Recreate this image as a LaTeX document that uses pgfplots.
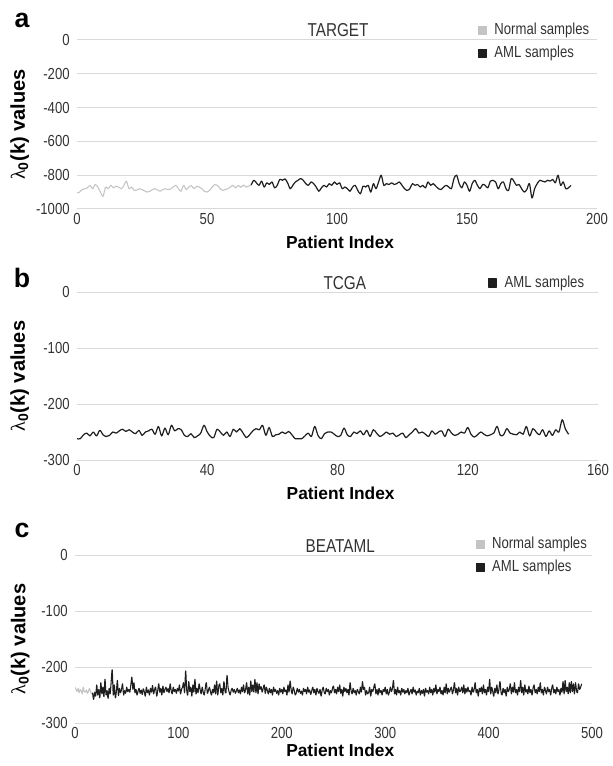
\documentclass[border=0pt]{standalone}
\usepackage{fontspec}
\setmainfont{Liberation Sans}
\newfontfamily\narrow{Liberation Sans}[FakeStretch=0.82]
\newfontfamily\lserif{Liberation Serif}
\usepackage{pgfplots}
\pgfplotsset{compat=1.18}
\definecolor{gridgray}{HTML}{D9D9D9}
\definecolor{normalgray}{HTML}{C4C4C4}
\definecolor{amlblack}{HTML}{1E1E1E}
\definecolor{textgray}{HTML}{333333}
\pgfplotsset{
  panel/.style={
    scale only axis, anchor=south west,
    axis line style={draw=none},
    major tick length=0pt,
    ymajorgrids, grid style={gridgray, line width=0.75pt},
    tick label style={font=\narrow\fontsize{12}{14}\selectfont, text=textgray},
    yticklabel style={xshift=-2pt},
    /pgf/number format/assume math mode=true,
    /pgf/number format/1000 sep={},
    every axis title shift=0pt,
    title style={anchor=center, font=\narrow\fontsize{14}{16}\selectfont, text=textgray},
    xlabel={Patient Index},
    xlabel style={anchor=center, font=\bfseries\fontsize{13}{15}\selectfont, text=black},
    ylabel={{\mdseries\lserif λ}\textsubscript{0}(k) values},
    ylabel style={anchor=center, font=\bfseries\fontsize{15}{18}\selectfont, text=black},
    legend cell align=left,
    legend image code/.code={\fill[##1] (0pt,-3pt) rectangle (6pt,3pt); \path (10.5pt,0pt);},
    legend style={draw=none, fill=none, inner sep=0pt, outer sep=0pt,
      font=\narrow\fontsize{12}{14}\selectfont, text=textgray, row sep=3.75pt,
      nodes={inner sep=1pt, text height=9pt, text depth=2.5pt}},
  },
  normalline/.style={color=normalgray, line width=0.8pt, no markers, smooth, tension=0.5, line join=round},
  amlline/.style={color=amlblack, line width=0.9pt, no markers, smooth, tension=0.5, line join=round},
}
\begin{document}
\begin{tikzpicture}
\path[use as bounding box] (0,0) rectangle (459pt,-574.5pt);
\node[font=\bfseries\fontsize{20}{22}\selectfont] at (16.5pt,-15pt) {a};
\node[font=\bfseries\fontsize{20}{22}\selectfont] at (16.5pt,-208.5pt) {b};
\node[font=\bfseries\fontsize{20}{22}\selectfont] at (16.5pt,-397.5pt) {c};
% ---------------- panel a
\begin{axis}[panel, at={(57.75pt,-156.75pt)}, width=390pt, height=126.75pt,
  xmin=0, xmax=200, ymin=-1000, ymax=0,
  xtick={0,50,100,150,200}, ytick={0,-200,-400,-600,-800,-1000},
  title={TARGET}, title style={at={(axis description cs:0.502,1.06)}},
  xlabel style={at={(axis description cs:0.506,-0.195)}},
  ylabel style={at={(axis description cs:-0.11,0.5)}},
  legend style={at={(axis description cs:0.771,0.99)}, anchor=west}]
\addplot[normalline] table[x expr=\coordindex, y index=0, header=false, row sep=\\] {
-905\\-900\\-885\\-880\\-875\\-860\\-880\\-855\\-870\\-900\\-925\\-870\\-880\\-860\\-875\\-865\\-870\\-880\\-862\\-835\\
-880\\-870\\-890\\-888\\-880\\-885\\-893\\-900\\-895\\-885\\-880\\-888\\-895\\-885\\-880\\-885\\-882\\-870\\-860\\-880\\
-895\\-860\\-885\\-870\\-862\\-880\\-865\\-870\\-880\\-895\\-900\\-890\\-870\\-855\\-860\\-880\\-890\\-885\\-880\\-870\\
-860\\-875\\-860\\-872\\-858\\-870\\-865\\-858\\
};
\addlegendentry{Normal samples}
\addplot[amlline] table[x expr=\coordindex+67, y index=0, header=false, row sep=\\] {
-858\\-830\\-845\\-860\\-835\\-870\\-845\\-855\\-840\\-875\\-860\\-825\\-830\\-822\\-845\\-880\\-860\\-840\\-830\\-820\\
-830\\-850\\-860\\-840\\-850\\-870\\-895\\-875\\-860\\-870\\-850\\-860\\-840\\-855\\-845\\-880\\-870\\-880\\-895\\-870\\
-860\\-890\\-910\\-865\\-870\\-860\\-900\\-850\\-880\\-840\\-800\\-860\\-850\\-855\\-845\\-855\\-850\\-840\\-860\\-880\\
-890\\-880\\-850\\-860\\-855\\-870\\-860\\-875\\-840\\-860\\-850\\-865\\-880\\-885\\-870\\-860\\-870\\-880\\-820\\-800\\
-850\\-875\\-840\\-860\\-895\\-850\\-830\\-860\\-880\\-855\\-860\\-875\\-835\\-830\\-840\\-880\\-850\\-840\\-880\\-890\\
-820\\-835\\-860\\-855\\-880\\-900\\-885\\-850\\-935\\-880\\-850\\-830\\-835\\-840\\-830\\-835\\-825\\-845\\-800\\-860\\
-840\\-880\\-875\\-860\\
};
\addlegendentry{AML samples}
\end{axis}
% ---------------- panel b
\begin{axis}[panel, at={(57.75pt,-345pt)}, width=390.75pt, height=126pt,
  xmin=0, xmax=160, ymin=-300, ymax=0,
  xtick={0,40,80,120,160}, ytick={0,-100,-200,-300},
  title={TCGA}, title style={at={(axis description cs:0.514,1.054)}},
  xlabel style={at={(axis description cs:0.506,-0.196)}},
  ylabel style={at={(axis description cs:-0.11,0.5)}},
  legend style={at={(axis description cs:0.789,1.054)}, anchor=west}]
\addplot[amlline] table[x expr=\coordindex, y index=0, header=false, row sep=\\] {
-262\\-262\\-255\\-252\\-257\\-250\\-257\\-247\\-255\\-258\\-256\\-250\\-252\\-248\\-245\\-249\\-246\\-250\\-253\\-247\\
-256\\-250\\-248\\-245\\-254\\-240\\-257\\-243\\-255\\-238\\-248\\-244\\-246\\-256\\-258\\-253\\-260\\-257\\-252\\-238\\
-250\\-258\\-260\\-245\\-250\\-256\\-250\\-258\\-245\\-250\\-244\\-252\\-260\\-255\\-248\\-244\\-246\\-238\\-256\\-242\\
-258\\-255\\-254\\-250\\-253\\-249\\-255\\-262\\-262\\-262\\-257\\-252\\-258\\-240\\-256\\-262\\-253\\-250\\-250\\-254\\
-258\\-256\\-243\\-255\\-258\\-250\\-253\\-248\\-255\\-247\\-258\\-246\\-252\\-258\\-255\\-250\\-254\\-252\\-258\\-255\\
-252\\-260\\-255\\-250\\-244\\-252\\-250\\-254\\-258\\-248\\-254\\-250\\-248\\-258\\-245\\-252\\-256\\-254\\-250\\-252\\
-242\\-254\\-259\\-255\\-250\\-254\\-257\\-255\\-252\\-240\\-256\\-255\\-244\\-252\\-254\\-255\\-250\\-254\\-240\\-257\\
-244\\-250\\-255\\-246\\-258\\-248\\-256\\-246\\-250\\-228\\-245\\-254\\
};
\addlegendentry{AML samples}
\end{axis}
% ---------------- panel c
\begin{axis}[panel, at={(56.25pt,-542.25pt)}, width=387.75pt, height=126pt,
  xmin=0, xmax=500, ymin=-300, ymax=0,
  xtick={0,100,200,300,400,500}, ytick={0,-100,-200,-300},
  title={BEATAML}, title style={at={(axis description cs:0.513,1.054)}},
  xlabel style={at={(axis description cs:0.513,-0.16)}},
  ylabel style={at={(axis description cs:-0.106,0.5)}},
  legend style={at={(axis description cs:0.775,0.995)}, anchor=west}]
\addplot[normalline] table[x expr=\coordindex, y index=0, header=false, row sep=\\] {
-236\\-240\\-244\\-238\\-246\\-240\\-242\\-248\\-236\\-244\\-245\\-241\\-247\\-243\\-238\\-244\\-248\\-246\\
};
\addlegendentry{Normal samples}
\addplot[amlline, line width=0.8pt] table[x expr=\coordindex+17, y index=0, header=false, row sep=\\] {
-246\\-258\\-245\\-252\\-232\\-250\\-240\\-255\\-228\\-248\\-236\\-253\\-222\\-250\\-242\\-256\\-238\\-248\\-226\\-205\\
-250\\-232\\-255\\-244\\-224\\-251\\-238\\-246\\-240\\-230\\-250\\-242\\-247\\-236\\-244\\-240\\-245\\-232\\-218\\-240\\
-228\\-246\\-240\\-250\\-243\\-238\\-247\\-241\\-249\\-239\\-244\\-252\\-236\\-246\\-241\\-250\\-238\\-245\\-233\\-248\\
-240\\-236\\-252\\-242\\-230\\-245\\-238\\-250\\-234\\-246\\-240\\-236\\-244\\-238\\-246\\-230\\-242\\-248\\-236\\-244\\
-240\\-247\\-238\\-243\\-232\\-248\\-240\\-236\\-228\\-246\\-207\\-240\\-250\\-226\\-244\\-236\\-252\\-232\\-245\\-222\\
-248\\-238\\-246\\-230\\-240\\-248\\-236\\-245\\-250\\-238\\-228\\-247\\-242\\-236\\-244\\-250\\-240\\-246\\-232\\-248\\
-225\\-250\\-235\\-230\\-246\\-238\\-250\\-226\\-242\\-246\\-215\\-236\\-244\\-250\\-242\\-238\\-245\\-240\\-247\\-243\\
-238\\-246\\-241\\-248\\-236\\-244\\-232\\-246\\-240\\-228\\-248\\-236\\-250\\-225\\-244\\-232\\-245\\-222\\-246\\-228\\
-248\\-230\\-240\\-235\\-245\\-238\\-232\\-247\\-236\\-242\\-248\\-238\\-246\\-240\\-250\\-236\\-244\\-240\\-247\\-242\\
-250\\-238\\-245\\-240\\-248\\-236\\-244\\-241\\-250\\-232\\-245\\-225\\-240\\-248\\-236\\-242\\-250\\-246\\-238\\-245\\
-240\\-247\\-243\\-250\\-238\\-244\\-240\\-248\\-236\\-245\\-241\\-249\\-242\\-236\\-246\\-240\\-250\\-238\\-244\\-247\\
-240\\-252\\-242\\-236\\-245\\-248\\-238\\-244\\-240\\-250\\-242\\-246\\-238\\-234\\-246\\-240\\-248\\-236\\-244\\-232\\
-247\\-240\\-252\\-236\\-244\\-238\\-246\\-240\\-250\\-228\\-242\\-248\\-238\\-246\\-242\\-250\\-240\\-244\\-248\\-236\\
-245\\-226\\-240\\-236\\-250\\-242\\-248\\-246\\-236\\-252\\-240\\-244\\-236\\-230\\-248\\-240\\-250\\-238\\-246\\-242\\
-250\\-240\\-244\\-236\\-248\\-240\\-250\\-245\\-236\\-244\\-238\\-224\\-248\\-240\\-250\\-236\\-246\\-242\\-250\\-238\\
-245\\-240\\-248\\-242\\-246\\-238\\-250\\-244\\-240\\-248\\-236\\-245\\-241\\-250\\-243\\-246\\-238\\-250\\-242\\-247\\
-240\\-252\\-238\\-245\\-242\\-248\\-236\\-246\\-240\\-250\\-238\\-245\\-232\\-248\\-240\\-244\\-236\\-248\\-242\\-250\\
-236\\-246\\-230\\-248\\-238\\-245\\-240\\-236\\-248\\-240\\-228\\-246\\-238\\-250\\-236\\-244\\-242\\-236\\-246\\-232\\
-248\\-238\\-245\\-236\\-244\\-242\\-250\\-236\\-245\\-240\\-228\\-246\\-240\\-252\\-238\\-244\\-236\\-248\\-232\\-246\\
-240\\-250\\-236\\-244\\-222\\-248\\-236\\-244\\-252\\-238\\-246\\-232\\-248\\-240\\-226\\-245\\-250\\-238\\-246\\-240\\
-252\\-236\\-244\\-240\\-230\\-248\\-236\\-245\\-228\\-246\\-240\\-250\\-236\\-244\\-224\\-246\\-236\\-250\\-232\\-245\\
-240\\-248\\-234\\-246\\-240\\-250\\-238\\-232\\-246\\-240\\-248\\-236\\-244\\-228\\-246\\-240\\-250\\-236\\-242\\-248\\
-236\\-244\\-240\\-250\\-238\\-232\\-246\\-240\\-248\\-236\\-244\\-240\\-250\\-238\\-245\\-226\\-248\\-224\\-244\\-236\\
-248\\-228\\-246\\-226\\-244\\-230\\-248\\-228\\-242\\-246\\-230\\-240\\-236\\-230\\
};
\addlegendentry{AML samples}
\end{axis}
\end{tikzpicture}
\end{document}
